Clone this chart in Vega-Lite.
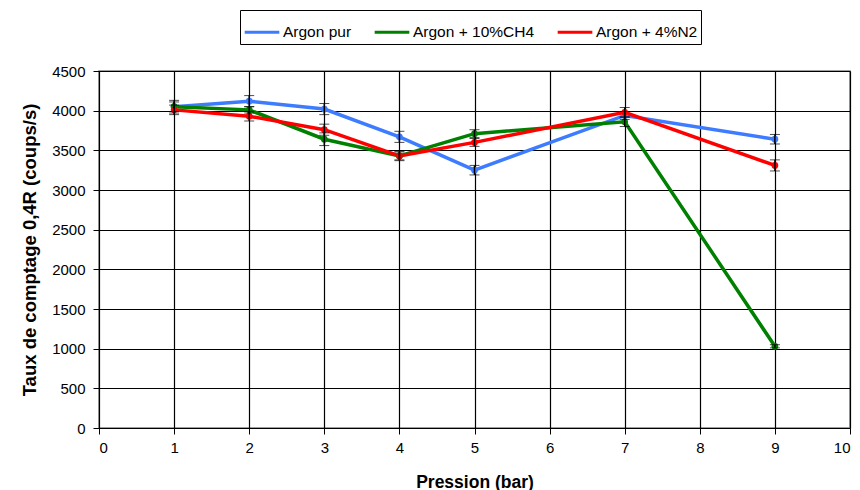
{
  "$schema": "https://vega.github.io/schema/vega-lite/v6.json",
  "width": 751,
  "height": 357,
  "autosize": {"type": "none"},
  "padding": {"left": 99, "top": 71, "right": 10, "bottom": 62},
  "background": "white",
  "config": {
    "font": "Liberation Sans",
    "view": {"stroke": "#808080", "strokeWidth": 1.5},
    "axis": {
      "labelFont": "Liberation Sans",
      "titleFont": "Liberation Sans",
      "labelFontSize": 15,
      "labelColor": "black",
      "titleFontSize": 17.5,
      "titleFontWeight": "bold",
      "titleColor": "black",
      "domainColor": "black",
      "tickColor": "black",
      "tickSize": 6,
      "gridColor": "black",
      "gridOpacity": 1,
      "gridWidth": 1.2,
      "labelOverlap": false,
      "format": "d"
    }
  },
  "data": {
    "values": [
      {"s": "Argon pur", "x": 1, "y": 4050, "e": 60},
      {"s": "Argon pur", "x": 2, "y": 4120, "e": 70},
      {"s": "Argon pur", "x": 3, "y": 4020, "e": 70},
      {"s": "Argon pur", "x": 4, "y": 3670, "e": 70},
      {"s": "Argon pur", "x": 5, "y": 3250, "e": 60},
      {"s": "Argon pur", "x": 7, "y": 3940, "e": 50},
      {"s": "Argon pur", "x": 9, "y": 3640, "e": 60},
      {"s": "Argon + 10%CH4", "x": 1, "y": 4050, "e": 80},
      {"s": "Argon + 10%CH4", "x": 2, "y": 4010, "e": 40},
      {"s": "Argon + 10%CH4", "x": 3, "y": 3640, "e": 80},
      {"s": "Argon + 10%CH4", "x": 4, "y": 3430, "e": 50},
      {"s": "Argon + 10%CH4", "x": 5, "y": 3710, "e": 50},
      {"s": "Argon + 10%CH4", "x": 7, "y": 3860, "e": 60},
      {"s": "Argon + 10%CH4", "x": 9, "y": 1030, "e": 20},
      {"s": "Argon + 4%N2", "x": 1, "y": 4010, "e": 60},
      {"s": "Argon + 4%N2", "x": 2, "y": 3930, "e": 60},
      {"s": "Argon + 4%N2", "x": 3, "y": 3760, "e": 70},
      {"s": "Argon + 4%N2", "x": 4, "y": 3430, "e": 60},
      {"s": "Argon + 4%N2", "x": 5, "y": 3600, "e": 50},
      {"s": "Argon + 4%N2", "x": 7, "y": 3980, "e": 60},
      {"s": "Argon + 4%N2", "x": 9, "y": 3310, "e": 70}
    ]
  },
  "encoding": {
    "x": {
      "field": "x", "type": "quantitative",
      "scale": {"domain": [0, 10], "nice": false},
      "axis": {"values": [0,1,2,3,4,5,6,7,8,9,10], "titlePadding": 18, "labelPadding": 6},
      "title": "Pression (bar)"
    },
    "y": {
      "field": "y", "type": "quantitative",
      "scale": {"domain": [0, 4500], "nice": false},
      "axis": {"values": [0,500,1000,1500,2000,2500,3000,3500,4000,4500], "titlePadding": 12, "labelPadding": 8, "titleFontSize": 18.5},
      "title": "Taux de comptage 0,4R (coups/s)"
    }
  },
  "layer": [
    {
      "mark": {"type": "line", "strokeWidth": 3.5, "point": {"filled": true, "size": 45}},
      "encoding": {
        "color": {
          "field": "s", "type": "nominal",
          "scale": {"domain": ["Argon pur", "Argon + 10%CH4", "Argon + 4%N2"], "range": ["#3D7BFF", "#008000", "#FF0000"]},
          "legend": {
            "title": null,
            "orient": "none",
            "legendX": 141,
            "legendY": -61,
            "direction": "horizontal",
            "strokeColor": "black",
            "fillColor": "white",
            "padding": 3,
            "labelFont": "Liberation Sans",
            "labelFontSize": 15.5,
            "labelColor": "black",
            "symbolType": "stroke",
            "symbolStrokeWidth": 3,
            "symbolSize": 1200,
            "columnPadding": 16,
            "labelOffset": 2
          }
        },
        "order": {"field": "x", "type": "quantitative"}
      }
    },
    {
      "mark": {"type": "errorbar", "ticks": {"size": 10, "color": "black", "strokeWidth": 2}, "rule": {"color": "black", "strokeWidth": 1.5}},
      "encoding": {
        "yError": {"field": "e"}
      }
    }
  ]
}
